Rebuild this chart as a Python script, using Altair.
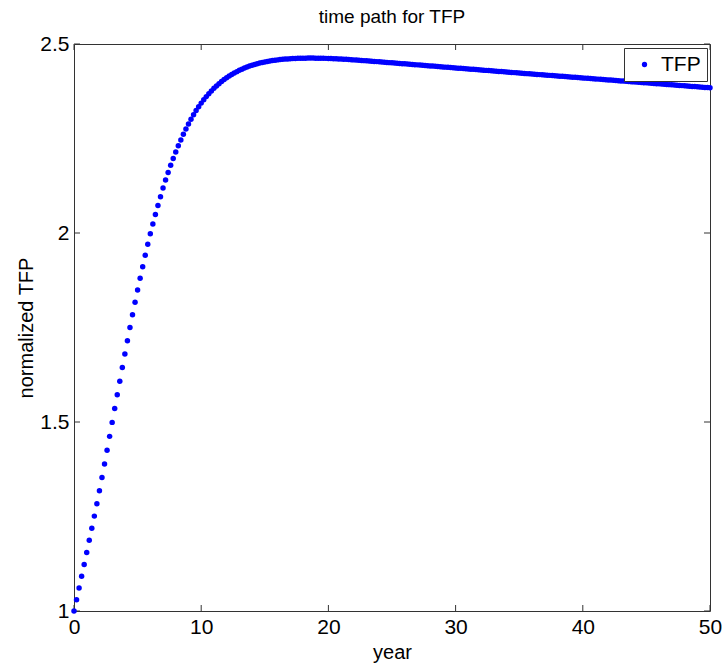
import altair as alt
import pandas as pd

# Simulation output: time grid in years and normalized TFP along the path
years = [
    0.0, 0.2, 0.4, 0.6, 0.8, 1.0, 1.2, 1.4, 1.6, 1.8,
    2.0, 2.2, 2.4, 2.6, 2.8, 3.0, 3.2, 3.4, 3.6, 3.8,
    4.0, 4.2, 4.4, 4.6, 4.8, 5.0, 5.2, 5.4, 5.6, 5.8,
    6.0, 6.2, 6.4, 6.6, 6.8, 7.0, 7.2, 7.4, 7.6, 7.8,
    8.0, 8.2, 8.4, 8.6, 8.8, 9.0, 9.2, 9.4, 9.6, 9.8,
    10.0, 10.2, 10.4, 10.6, 10.8, 11.0, 11.2, 11.4, 11.6, 11.8,
    12.0, 12.2, 12.4, 12.6, 12.8, 13.0, 13.2, 13.4, 13.6, 13.8,
    14.0, 14.2, 14.4, 14.6, 14.8, 15.0, 15.2, 15.4, 15.6, 15.8,
    16.0, 16.2, 16.4, 16.6, 16.8, 17.0, 17.2, 17.4, 17.6, 17.8,
    18.0, 18.2, 18.4, 18.6, 18.8, 19.0, 19.2, 19.4, 19.6, 19.8,
    20.0, 20.2, 20.4, 20.6, 20.8, 21.0, 21.2, 21.4, 21.6, 21.8,
    22.0, 22.2, 22.4, 22.6, 22.8, 23.0, 23.2, 23.4, 23.6, 23.8,
    24.0, 24.2, 24.4, 24.6, 24.8, 25.0, 25.2, 25.4, 25.6, 25.8,
    26.0, 26.2, 26.4, 26.6, 26.8, 27.0, 27.2, 27.4, 27.6, 27.8,
    28.0, 28.2, 28.4, 28.6, 28.8, 29.0, 29.2, 29.4, 29.6, 29.8,
    30.0, 30.2, 30.4, 30.6, 30.8, 31.0, 31.2, 31.4, 31.6, 31.8,
    32.0, 32.2, 32.4, 32.6, 32.8, 33.0, 33.2, 33.4, 33.6, 33.8,
    34.0, 34.2, 34.4, 34.6, 34.8, 35.0, 35.2, 35.4, 35.6, 35.8,
    36.0, 36.2, 36.4, 36.6, 36.8, 37.0, 37.2, 37.4, 37.6, 37.8,
    38.0, 38.2, 38.4, 38.6, 38.8, 39.0, 39.2, 39.4, 39.6, 39.8,
    40.0, 40.2, 40.4, 40.6, 40.8, 41.0, 41.2, 41.4, 41.6, 41.8,
    42.0, 42.2, 42.4, 42.6, 42.8, 43.0, 43.2, 43.4, 43.6, 43.8,
    44.0, 44.2, 44.4, 44.6, 44.8, 45.0, 45.2, 45.4, 45.6, 45.8,
    46.0, 46.2, 46.4, 46.6, 46.8, 47.0, 47.2, 47.4, 47.6, 47.8,
    48.0, 48.2, 48.4, 48.6, 48.8, 49.0, 49.2, 49.4, 49.6, 49.8,
    50.0,
]

tfp = [
    1.000, 1.030, 1.061, 1.092, 1.123, 1.155, 1.187, 1.219, 1.251, 1.284,
    1.318, 1.353, 1.389, 1.425, 1.462, 1.499, 1.536, 1.572, 1.608, 1.644,
    1.680, 1.715, 1.750, 1.784, 1.817, 1.849, 1.880, 1.911, 1.941, 1.970,
    1.998, 2.024, 2.049, 2.073, 2.096, 2.119, 2.140, 2.160, 2.179, 2.197,
    2.214, 2.231, 2.246, 2.261, 2.275, 2.2885, 2.3011, 2.3129, 2.3239, 2.3341,
    2.3436, 2.3525, 2.3608, 2.3686, 2.3759, 2.3827, 2.3891, 2.3951, 2.4007, 2.4059,
    2.4107, 2.4152, 2.4194, 2.4233, 2.4269, 2.4303, 2.4334, 2.4363, 2.4390, 2.4415,
    2.4438, 2.4459, 2.4478, 2.4495, 2.4511, 2.4525, 2.4538, 2.4550, 2.4561, 2.4571,
    2.4580, 2.4588, 2.4595, 2.4601, 2.4606, 2.4611, 2.4615, 2.4618, 2.4621, 2.4623,
    2.4625, 2.4626, 2.4627, 2.4627, 2.4627, 2.4626, 2.4625, 2.4624, 2.4622, 2.4620,
    2.4618, 2.4615, 2.4612, 2.4609, 2.4606, 2.4602, 2.4598, 2.4594, 2.4590, 2.4585,
    2.4580, 2.4575, 2.4570, 2.4565, 2.4560, 2.4555, 2.4550, 2.4545, 2.4540, 2.4534,
    2.4529, 2.4523, 2.4518, 2.4513, 2.4507, 2.4502, 2.4496, 2.4491, 2.4486, 2.4480,
    2.4475, 2.4469, 2.4464, 2.4459, 2.4453, 2.4448, 2.4442, 2.4437, 2.4432, 2.4426,
    2.4421, 2.4415, 2.4410, 2.4405, 2.4399, 2.4394, 2.4388, 2.4383, 2.4378, 2.4372,
    2.4367, 2.4361, 2.4356, 2.4351, 2.4345, 2.4340, 2.4334, 2.4329, 2.4324, 2.4318,
    2.4313, 2.4307, 2.4302, 2.4297, 2.4291, 2.4286, 2.4280, 2.4275, 2.4270, 2.4264,
    2.4259, 2.4253, 2.4248, 2.4243, 2.4237, 2.4232, 2.4227, 2.4222, 2.4216, 2.4211,
    2.4206, 2.4201, 2.4196, 2.4190, 2.4185, 2.4180, 2.4175, 2.4170, 2.4164, 2.4159,
    2.4154, 2.4149, 2.4144, 2.4138, 2.4133, 2.4128, 2.4123, 2.4118, 2.4112, 2.4107,
    2.4102, 2.4097, 2.4092, 2.4086, 2.4081, 2.4076, 2.4071, 2.4066, 2.4060, 2.4055,
    2.4050, 2.4045, 2.4040, 2.4034, 2.4029, 2.4024, 2.4019, 2.4014, 2.4008, 2.4003,
    2.3998, 2.3993, 2.3988, 2.3982, 2.3977, 2.3972, 2.3967, 2.3962, 2.3956, 2.3951,
    2.3946, 2.3941, 2.3936, 2.3930, 2.3925, 2.3920, 2.3915, 2.3910, 2.3904, 2.3899,
    2.3894, 2.3889, 2.3884, 2.3878, 2.3873, 2.3868, 2.3863, 2.3858, 2.3852, 2.3847,
    2.3842,
]

x_ticks = [0, 10, 20, 30, 40, 50]
y_ticks = [1.0, 1.5, 2.0, 2.5]

FONT = "Liberation Sans"
W, H = 636, 567
TICK = 6
FRAME = "#333333"

df = pd.DataFrame({"year": years, "tfp": tfp, "series": "TFP"})
xt = pd.DataFrame({"year": x_ticks})
yt = pd.DataFrame({"tfp": y_ticks})

x_scale = alt.Scale(domain=[0, 50], nice=False, zero=False)
y_scale = alt.Scale(domain=[1, 2.5], nice=False, zero=False)

points = alt.Chart(df).mark_circle(size=30, opacity=1).encode(
    x=alt.X(
        "year:Q",
        scale=x_scale,
        title="year",
        axis=alt.Axis(values=x_ticks, format="d", labelPadding=5, titlePadding=5),
    ),
    y=alt.Y(
        "tfp:Q",
        scale=y_scale,
        title="normalized TFP",
        axis=alt.Axis(values=y_ticks, format=".1~f", labelPadding=5, titlePadding=3),
    ),
    color=alt.Color(
        "series:N",
        scale=alt.Scale(domain=["TFP"], range=["#0000ff"]),
        legend=alt.Legend(
            title=None,
            orient="none",
            legendX=550,
            legendY=4,
            fillColor="white",
            strokeColor=FRAME,
            padding=6,
            symbolType="circle",
            symbolSize=28,
            symbolFillColor="#0000ff",
            symbolStrokeWidth=0,
            labelFont=FONT,
            labelFontSize=21,
            labelColor="black",
            symbolOffset=4,
            labelOffset=6,
        ),
    ),
)

# Inward tick marks on all four sides of the box
x_bottom = alt.Chart(xt).mark_rule(color=FRAME, strokeWidth=1).encode(
    x=alt.X("year:Q", scale=x_scale), y=alt.value(H), y2=alt.value(H - TICK)
)
x_top = alt.Chart(xt).mark_rule(color=FRAME, strokeWidth=1).encode(
    x=alt.X("year:Q", scale=x_scale), y=alt.value(0), y2=alt.value(TICK)
)
y_left = alt.Chart(yt).mark_rule(color=FRAME, strokeWidth=1).encode(
    y=alt.Y("tfp:Q", scale=y_scale), x=alt.value(0), x2=alt.value(TICK)
)
y_right = alt.Chart(yt).mark_rule(color=FRAME, strokeWidth=1).encode(
    y=alt.Y("tfp:Q", scale=y_scale), x=alt.value(W), x2=alt.value(W - TICK)
)

chart = (
    alt.layer(x_bottom, x_top, y_left, y_right, points)
    .properties(
        width=W,
        height=H,
        autosize=alt.AutoSizeParams(type="none"),
        padding={"left": 74, "top": 44, "right": 12, "bottom": 60},
        title=alt.TitleParams(
            "time path for TFP",
            font=FONT,
            fontSize=19,
            fontWeight="normal",
            color="black",
            anchor="middle",
            offset=6,
        ),
    )
    .configure_view(stroke=FRAME, strokeWidth=1)
    .configure_axis(
        domain=False,
        ticks=False,
        grid=False,
        labelFlush=False,
        labelFont=FONT,
        labelFontSize=21,
        labelColor="black",
        titleFont=FONT,
        titleFontSize=20,
        titleFontWeight="normal",
        titleColor="black",
    )
)

chart.save("out.html", embed_options={"renderer": "svg", "actions": False})
